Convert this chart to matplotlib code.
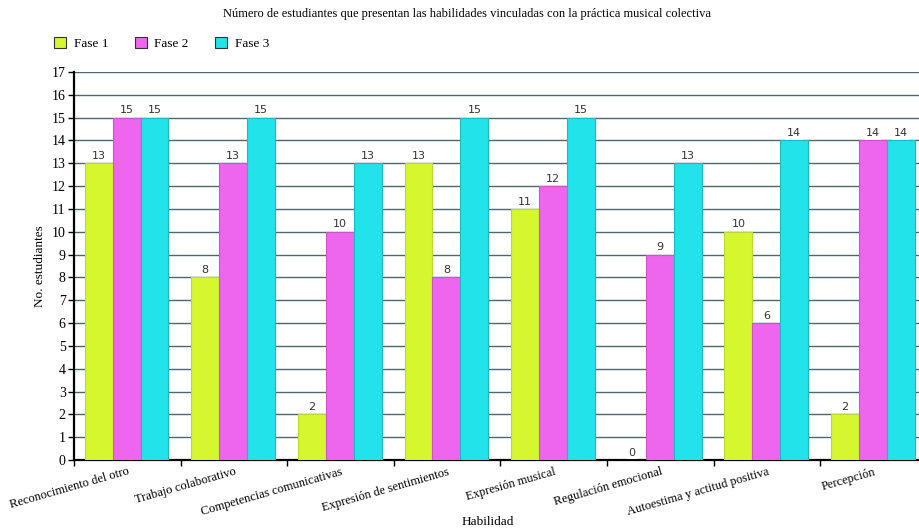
import numpy as np
import matplotlib.pyplot as plt
from matplotlib.patches import Patch

plt.rcParams['font.family'] = ['Liberation Serif', 'DejaVu Serif']

habilidades = ['Reconocimiento del otro', 'Trabajo colaborativo', 'Competencias comunicativas',
               'Expresión de sentimientos', 'Expresión musical', 'Regulación emocional',
               'Autoestima y actitud positiva', 'Percepción']
fase1 = [13, 8, 2, 13, 11, 0, 10, 2]
fase2 = [15, 13, 10, 8, 12, 9, 6, 14]
fase3 = [15, 15, 13, 15, 15, 13, 14, 14]

series = [('Fase 1', fase1, '#d6f72e', '#bcd838'),
          ('Fase 2', fase2, '#ee66ee', '#c658c6'),
          ('Fase 3', fase3, '#22e2ea', '#1cbac2')]

fig = plt.figure(figsize=(9.2, 5.32), dpi=100)
# axes run past the right edge of the figure, so the last group is partly cut
ax = fig.add_axes([74 / 920, 72 / 532, 853 / 920, 388 / 532])

x = np.arange(len(habilidades))
w = 0.262
off = 0.1
for i, (name, vals, col, edge) in enumerate(series):
    pos = x + off + w * i + w / 2
    ax.bar(pos, vals, width=w, color=col, edgecolor=edge, linewidth=0.8, zorder=3)
    for p, v in zip(pos, vals):
        ax.text(p, v + 0.1, str(v), ha='center', va='bottom', fontsize=8,
                family='DejaVu Sans', color='#333333', zorder=4,
                bbox=dict(boxstyle='square,pad=0.12', fc='white', ec='none'))

ax.set_xlim(0, len(habilidades))
ax.set_ylim(0, 17)
ax.set_yticks(range(0, 18))
ax.set_xticks(range(len(habilidades)))
ax.set_xticklabels([])
ax.tick_params(axis='both', labelsize=10, length=4, width=1, direction='out', pad=2)
ax.yaxis.grid(True, color='#4e666e', linewidth=1, zorder=0)
ax.set_axisbelow(True)
for s in ['top', 'right']:
    ax.spines[s].set_visible(False)
ax.spines['left'].set_linewidth(1.6)
ax.spines['bottom'].set_linewidth(1.6)

# rotated category names, right end hanging from the middle of each group
for i, lab in enumerate(habilidades):
    ax.text(i + 0.5, -0.25, lab, rotation=16, rotation_mode='anchor', ha='right',
            va='top', fontsize=9, transform=ax.transData)

fig.text(40 / 920, 1 - 266 / 532, 'No. estudiantes', rotation=90, ha='center', va='center',
         fontsize=9.5)
fig.text(488 / 920, 1 - 522 / 532, 'Habilidad', ha='center', va='center', fontsize=9.5)
fig.text(467 / 920, 1 - 14 / 532,
         'Número de estudiantes que presentan las habilidades vinculadas con la práctica musical colectiva',
         ha='center', va='center', fontsize=9)

handles = [Patch(facecolor=col, edgecolor='#333333', linewidth=0.8, label=name)
           for name, vals, col, edge in series]
ax.legend(handles=handles, loc='lower left', bbox_to_anchor=(54 / 920, 1 - 50 / 532),
          bbox_transform=fig.transFigure, ncol=3, frameon=False, fontsize=9.5,
          handlelength=0.9, handleheight=0.9, columnspacing=2.0, handletextpad=0.6,
          borderpad=0, borderaxespad=0)

fig.savefig('out.png', dpi=100)
